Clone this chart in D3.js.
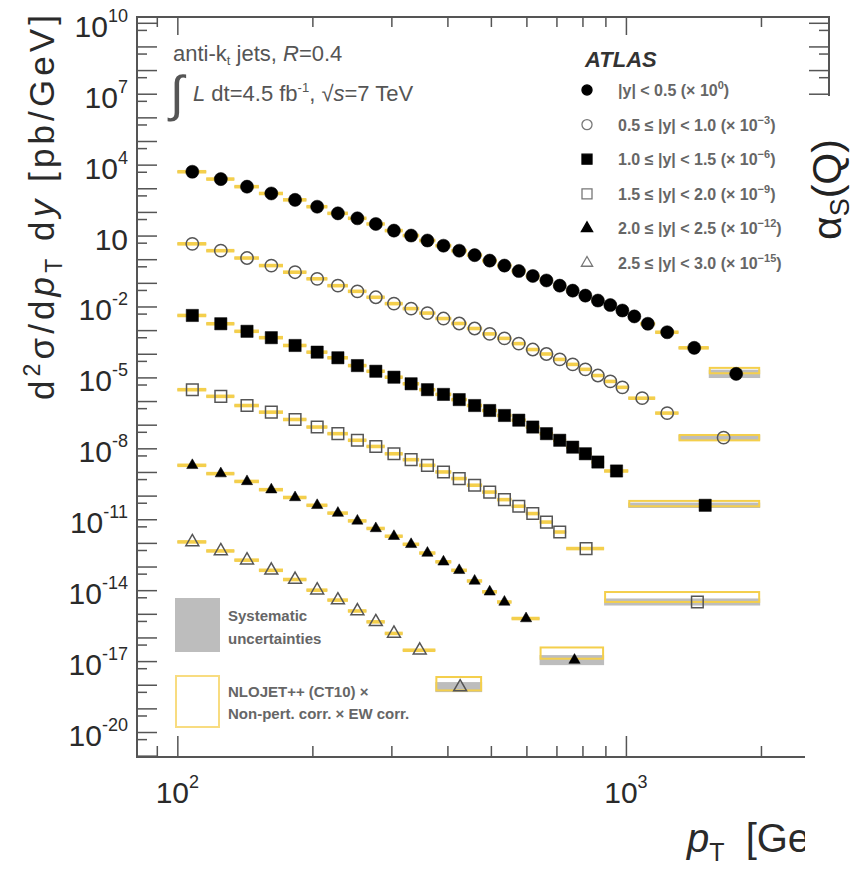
<!DOCTYPE html>
<html><head><meta charset="utf-8">
<script src="https://cdn.jsdelivr.net/npm/d3@7"></script>
<style>
body{margin:0;background:#fff;}
svg{display:block;font-family:"Liberation Sans",Arial,Helvetica,sans-serif;}
</style>
</head><body>
<svg id="c" width="858" height="873"></svg>
<script>
// ---------- data ----------
const binsRap0 = [100,116,134,152,172,194,216,240,264,290,318,346,376,408,442,478,516,556,598,642,688,736,786,838,894,952,1012,1076,1162,1310,1530,1992];
const binsRap1 = [100,116,134,152,172,194,216,240,264,290,318,346,376,408,442,478,516,556,598,642,688,736,786,838,894,952,1012,1162,1310,1992];
const binsRap2 = [100,116,134,152,172,194,216,240,264,290,318,346,376,408,442,478,516,556,598,642,688,736,786,838,894,1012,1992];
const binsRap3 = [100,116,134,152,172,194,216,240,264,290,318,346,376,408,442,478,516,556,598,642,688,736,894,1992];
const binsRap4 = [100,116,134,152,172,194,216,240,264,290,318,346,376,408,442,478,516,556,642,894];
const binsRap5 = [100,116,134,152,172,194,216,240,264,290,318,376,478];

// d2sigma/dpT dy [pb/GeV], before the multiplicative factor
const xsRap0 = [5.0e3,2.45e3,1.17e3,603,324,166,87,53.7,30.9,16.2,10.0,6.17,3.72,2.29,1.48,0.871,0.537,0.316,0.195,0.126,0.0759,0.0468,0.0288,0.0178,0.0115,6.76e-3,3.80e-3,1.86e-3,8.13e-4,1.78e-4,1.41e-5];
const xsRap1 = [4.47e3,2.29e3,1.12e3,537,282,148,75.9,43.7,24.5,13.2,8.13,5.25,3.09,1.91,1.17,0.692,0.447,0.269,0.151,0.0977,0.0575,0.0355,0.0219,0.0120,6.76e-3,3.80e-3,1.32e-3,3.09e-4,2.82e-5];
const xsRap2 = [4.17e3,1.86e3,891,479,224,117,67.6,31.6,18.2,10.2,5.37,3.02,1.91,1.15,0.646,0.398,0.245,0.155,0.0794,0.0417,0.0219,0.0112,5.89e-3,2.63e-3,1.10e-3,3.89e-5];
const xsRap3 = [3.02e3,1.58e3,646,339,166,79.4,41.7,21.9,12.0,5.89,3.31,1.91,1.00,0.525,0.275,0.141,0.0676,0.0355,0.0174,7.59e-3,2.88e-3,5.75e-4,3.16e-6];
const xsRap4 = [1.91e3,851,398,178,83.2,38.9,18.2,8.51,4.07,1.91,0.871,0.372,0.158,0.0692,0.0245,8.51e-3,3.16e-3,6.31e-4,1.10e-5];
const xsRap5 = [1.10e3,457,186,69.2,28.2,10.0,3.80,1.32,0.457,0.148,0.0288,7.94e-4];

const scaleExp = [0,-3,-6,-9,-12,-15];
const rapLabels = ["|y| < 0.5","0.5 \u2264 |y| < 1.0","1.0 \u2264 |y| < 1.5","1.5 \u2264 |y| < 2.0","2.0 \u2264 |y| < 2.5","2.5 \u2264 |y| < 3.0"];
const markerShape = ["circle","circle","square","square","triangle","triangle"];
const markerFilled = [true,false,true,false,true,false];

// theory / uncertainty (relative) : regular bins and the widest last bin
const thUnc = 0.08, sysUnc = 0.08;
const thRatioLast = [1.38,1.0,1.18,1.63,1.98,1.39];
const thUncLast  = [0.30,0.30,0.30,0.62,0.73,0.92];
const sysLast    = [0.50,0.30,0.30,0.41,0.63,0.63];

const yMajorExp = [10,7,4,1,-2,-5,-8,-11,-14,-17,-20];
const xMajor = [100,1000];
const xMinor = [90,200,300,400,500,600,700,800,900,2000];

// ---------- layout ----------
const svg = d3.select("#c");
const L = 137, R = 829, T = 17, B = 757;
const x = d3.scaleLog().domain([81.3, 2836]).range([L, R]);
const y = d3.scaleLog().domain([Math.pow(10,-21.057), Math.pow(10,10.245)]).range([B, T]);

const frameCol = "#555";
const yellow = "#f4cf4c";
const grey = "#bdbdbd";

// ---------- axes ticks ----------
function styleAxis(g){ g.select(".domain").remove(); g.selectAll("line").attr("stroke",frameCol).attr("stroke-width",1.5); }
const yMaj = d3.range(-21, 11).map(k => Math.pow(10,k));
const yMin = d3.range(-21, 10).map(k => 5*Math.pow(10,k));

svg.append("g").attr("transform",`translate(0,${B})`).call(d3.axisBottom(x).tickValues(xMajor).tickSize(-21).tickFormat("")).call(styleAxis);
svg.append("g").attr("transform",`translate(0,${B})`).call(d3.axisBottom(x).tickValues(xMinor).tickSize(-11).tickFormat("")).call(styleAxis);
svg.append("g").attr("transform",`translate(0,${T})`).call(d3.axisTop(x).tickValues(xMajor).tickSize(-18).tickFormat("")).call(styleAxis);
svg.append("g").attr("transform",`translate(0,${T})`).call(d3.axisTop(x).tickValues(xMinor).tickSize(-10).tickFormat("")).call(styleAxis);
svg.append("g").attr("transform",`translate(${L},0)`).call(d3.axisLeft(y).tickValues(yMaj).tickSize(-20).tickFormat("")).call(styleAxis);
svg.append("g").attr("transform",`translate(${L},0)`).call(d3.axisLeft(y).tickValues(yMin).tickSize(-10).tickFormat("")).call(styleAxis);
svg.append("g").attr("transform",`translate(${R},0)`).call(d3.axisRight(y).tickValues(yMaj).tickSize(-20).tickFormat("")).call(styleAxis);
svg.append("g").attr("transform",`translate(${R},0)`).call(d3.axisRight(y).tickValues(yMin).tickSize(-10).tickFormat("")).call(styleAxis);

svg.append("rect").attr("x",L).attr("y",T).attr("width",R-L).attr("height",B-T)
  .attr("fill","none").attr("stroke",frameCol).attr("stroke-width",2);

// tick labels
const yl = svg.append("g").attr("fill","#2a2a2a").attr("font-size",30);
yMajorExp.forEach(e => {
  const t = yl.append("text").attr("x",128).attr("y",y(Math.pow(10,e))+14).attr("text-anchor","end");
  t.append("tspan").text("10");
  if (e !== 1) t.append("tspan").attr("dy",-15).attr("font-size",18).text(String(e));
});
xMajor.forEach(v => {
  const t = svg.append("text").attr("x",x(v)).attr("y",803).attr("text-anchor","middle").attr("fill","#2a2a2a").attr("font-size",30);
  t.append("tspan").text("10");
  t.append("tspan").attr("dy",-15).attr("font-size",18).text(Math.round(Math.log10(v)));
});

// ---------- data marks ----------
const binsAll = [binsRap0,binsRap1,binsRap2,binsRap3,binsRap4,binsRap5];
const xsAll = [xsRap0,xsRap1,xsRap2,xsRap3,xsRap4,xsRap5];
const series = binsAll.map((bins,i) => {
  const f = Math.pow(10, scaleExp[i]);
  return xsAll[i].map((v,j) => {
    const last = j === xsAll[i].length-1;
    return {s:i, lo:bins[j], hi:bins[j+1], pt:(bins[j]+bins[j+1])/2, v:v*f,
      th: v*f*(last?thRatioLast[i]:1), tu: last?thUncLast[i]:thUnc, su: last?sysLast[i]:sysUnc};
  });
});
const pts = series.flat();

const gBand = svg.append("g");
gBand.selectAll("rect.sys").data(pts).join("rect").attr("class","sys")
  .attr("x",d=>x(d.lo)).attr("width",d=>x(d.hi)-x(d.lo))
  .attr("y",d=>y(d.v*(1+d.su))).attr("height",d=>y(d.v/(1+d.su))-y(d.v*(1+d.su)))
  .attr("fill",grey);
gBand.selectAll("rect.th").data(pts).join("rect").attr("class","th")
  .attr("x",d=>x(d.lo)+1).attr("width",d=>x(d.hi)-x(d.lo)-2)
  .attr("y",d=>y(d.th*(1+d.tu))).attr("height",d=>y(d.th/(1+d.tu))-y(d.th*(1+d.tu)))
  .attr("fill","none").attr("stroke",yellow).attr("stroke-width",2);

function symFor(i, legend){
  const sh = markerShape[i];
  if (sh==="circle") return d3.symbol(d3.symbolCircle, legend?80:(markerFilled[i]?135:120))();
  if (sh==="square") return d3.symbol(d3.symbolSquare, legend?100:(markerFilled[i]?150:135))();
  return d3.symbol(d3.symbolTriangle, legend?55:(markerFilled[i]?55:72))();
}
const gM = svg.append("g");
gM.selectAll("path").data(pts).join("path")
  .attr("transform",d=>`translate(${x(d.pt)},${y(d.v)})`)
  .attr("d",d=>symFor(d.s,false))
  .attr("fill",d=>markerFilled[d.s]?"#000":"none")
  .attr("stroke",d=>markerFilled[d.s]?"#000":"#555")
  .attr("stroke-width",d=>markerFilled[d.s]?0.5:1.5);

// ---------- legend ----------
svg.append("text").attr("x",585).attr("y",67).attr("font-size",22).attr("font-weight","bold")
  .attr("font-style","italic").attr("fill","#333").text("ATLAS");
const lg = svg.append("g");
rapLabels.forEach((lab,i) => {
  const yy = 90 + i*34.6;
  lg.append("path").attr("transform",`translate(587,${yy})`).attr("d",symFor(i,true))
    .attr("fill",markerFilled[i]?"#000":"none").attr("stroke",markerFilled[i]?"#000":"#777").attr("stroke-width",1.3);
  const t = lg.append("text").attr("x",618).attr("y",yy+6).attr("font-size",16).attr("font-weight","bold").attr("fill","#666");
  t.append("tspan").text(lab + " (\u00d7 10");
  t.append("tspan").attr("dy",-7).attr("font-size",11).text(scaleExp[i]===0?"0":"\u2212"+(-scaleExp[i]));
  t.append("tspan").attr("dy",7).text(")");
});

// info text
const info = svg.append("g").attr("fill","#555").attr("font-size",22);
const t1 = info.append("text").attr("x",173).attr("y",61);
t1.append("tspan").text("anti-k");
t1.append("tspan").attr("dy",4).attr("font-size",13).text("t");
t1.append("tspan").attr("dy",-4).text(" jets,  ");
t1.append("tspan").attr("font-style","italic").text("R");
t1.append("tspan").text("=0.4");
info.append("text").attr("x",170).attr("y",111).attr("font-size",50).attr("font-weight","300").text("\u222B");
const t2 = info.append("text").attr("x",193).attr("y",101);
t2.append("tspan").attr("font-style","italic").text("L");
t2.append("tspan").text(" dt=4.5 fb");
t2.append("tspan").attr("dy",-9).attr("font-size",13).text("-1");
t2.append("tspan").attr("dy",9).text(",   \u221A");
t2.append("tspan").attr("font-style","italic").text("s");
t2.append("tspan").text("=7 TeV");

// uncertainty legend
svg.append("rect").attr("x",175).attr("y",598).attr("width",45).attr("height",54).attr("fill",grey);
svg.append("rect").attr("x",176).attr("y",676).attr("width",43).attr("height",51).attr("fill","none").attr("stroke","#f8dc80").attr("stroke-width",2);
const ul = svg.append("g").attr("font-size",15).attr("font-weight","bold").attr("fill","#666");
ul.append("text").attr("x",228).attr("y",621).text("Systematic");
ul.append("text").attr("x",228).attr("y",644).text("uncertainties");
ul.append("text").attr("x",228).attr("y",697).text("NLOJET++ (CT10) \u00d7");
ul.append("text").attr("x",228).attr("y",719).text("Non-pert. corr. \u00d7 EW corr.");

// axis titles
const yt = svg.append("text").attr("transform","translate(54,15) rotate(-90)").attr("text-anchor","end")
  .attr("font-size",35).attr("fill","#2a2a2a").attr("textLength",385).attr("lengthAdjust","spacing");
yt.append("tspan").text("d");
yt.append("tspan").attr("dy",-14).attr("font-size",23).text("2");
yt.append("tspan").attr("dy",14).text("\u03C3/d");
yt.append("tspan").attr("font-style","italic").text("p");
yt.append("tspan").attr("dy",8).attr("font-size",23).text("T");
yt.append("tspan").attr("dy",-8).text(" d");
yt.append("tspan").attr("font-style","italic").text("y");
yt.append("tspan").text(" [pb/GeV]");

const xt = svg.append("text").attr("x",687).attr("y",852).attr("font-size",40).attr("fill","#2a2a2a");
xt.append("tspan").attr("font-style","italic").text("p");
xt.append("tspan").attr("dy",9).attr("font-size",25).text("T");
xt.append("tspan").attr("dy",-9).attr("dx",10).text(" [GeV]");

// overlapping neighbour panel (cut-off region)
svg.append("rect").attr("x",805).attr("y",96).attr("width",60).attr("height",780).attr("fill","#fff");
const as = svg.append("text").attr("transform","translate(841,240) rotate(-90)").attr("font-size",41).attr("fill","#222");
as.append("tspan").text("\u03B1");
as.append("tspan").attr("dy",8).attr("font-size",27).text("S");
as.append("tspan").attr("dy",-8).text("(Q)");
</script>
</body></html>
